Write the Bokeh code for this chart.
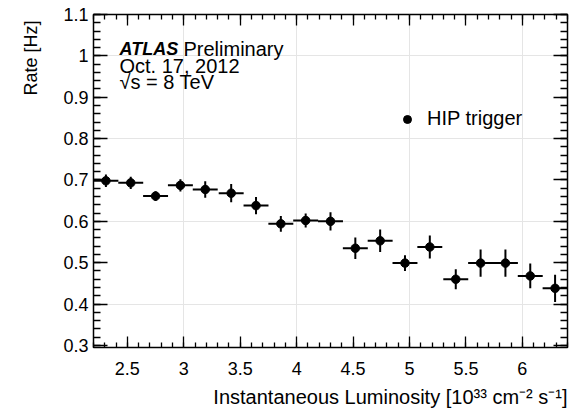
from bokeh.plotting import figure
from bokeh.models import (Range1d, LinearAxis, SingleIntervalTicker, CustomJSTickFormatter,
                          CustomLabelingPolicy, ColumnDataSource, Label, Legend, LegendItem, Title)
from bokeh.embed import file_html
from bokeh.resources import INLINE

# ---- data ----
lumi = [2.31, 2.53, 2.75, 2.97, 3.19, 3.42, 3.64, 3.86, 4.08, 4.30,
        4.52, 4.74, 4.96, 5.18, 5.41, 5.63, 5.85, 6.07, 6.29]
rate = [0.698, 0.693, 0.661, 0.687, 0.677, 0.668, 0.638, 0.594, 0.602, 0.600,
        0.535, 0.553, 0.499, 0.538, 0.460, 0.499, 0.499, 0.468, 0.438]
rate_err = [0.015, 0.015, 0.012, 0.015, 0.020, 0.022, 0.021, 0.019, 0.017, 0.022,
            0.026, 0.027, 0.019, 0.028, 0.024, 0.033, 0.033, 0.030, 0.033]
lumi_halfwidth = 0.1105
series_name = "HIP trigger"
x_title = "Instantaneous Luminosity [10³³ cm⁻² s⁻¹]"
y_title = "Rate [Hz]"

FONT = "Liberation Sans"

src = ColumnDataSource(dict(
    x=lumi, y=rate,
    xlo=[v - lumi_halfwidth for v in lumi], xhi=[v + lumi_halfwidth for v in lumi],
    ylo=[r - e for r, e in zip(rate, rate_err)], yhi=[r + e for r, e in zip(rate, rate_err)],
))

p = figure(width=571, height=420, x_range=Range1d(2.2, 6.4), y_range=Range1d(0.295, 1.1),
           output_backend="svg", toolbar_location=None,
           x_axis_location=None, y_axis_location=None,
           min_border_left=93, min_border_right=2, min_border_top=14, min_border_bottom=73)
p.outline_line_color = "black"
p.outline_line_width = 1.5
p.background_fill_color = "white"
p.border_fill_color = "white"

fmt = CustomJSTickFormatter(code="return String(Number(tick.toFixed(3)));")
no_labels = CustomLabelingPolicy(code="return new Set()")


def make_axis(ticker, major_in, minor_in, labels):
    ax = LinearAxis(ticker=ticker, formatter=fmt)
    ax.major_tick_in = major_in
    ax.major_tick_out = 0
    ax.minor_tick_in = minor_in
    ax.minor_tick_out = 0
    ax.axis_line_color = None
    ax.major_tick_line_width = 1.3
    ax.minor_tick_line_width = 1.3
    ax.major_tick_line_color = "black"
    ax.minor_tick_line_color = "black"
    if labels:
        ax.major_label_text_font = FONT
        ax.major_label_text_font_size = "18px"
        ax.major_label_text_color = "black"
    else:
        ax.major_label_policy = no_labels
        ax.major_label_text_font_size = "1px"
        ax.major_label_standoff = 0
    return ax


xt = lambda: SingleIntervalTicker(interval=0.5, num_minor_ticks=5)
yt = lambda: SingleIntervalTicker(interval=0.1, num_minor_ticks=5)

xb = make_axis(xt(), 11, 5, True)
xb.major_label_standoff = 14
p.add_layout(xb, "below")
xa = make_axis(xt(), 11, 5, False)
p.add_layout(xa, "above")
yl = make_axis(yt(), 14, 7, True)
yl.major_label_standoff = 5
p.add_layout(yl, "left")
yr = make_axis(yt(), 14, 7, False)
p.add_layout(yr, "right")

# axis titles at the axis ends (ROOT style)
p.add_layout(Title(text=x_title, align="right", vertical_align="bottom", offset=0,
                   standoff=12, text_font=FONT, text_font_size="20px",
                   text_font_style="normal", text_color="black"), "below")
p.add_layout(Title(text=y_title, align="right", vertical_align="middle", offset=6,
                   standoff=38, text_font=FONT, text_font_size="18px",
                   text_font_style="normal", text_color="black"), "left")

# error bars and markers
p.segment(x0="xlo", x1="xhi", y0="y", y1="y", source=src, line_color="black", line_width=2)
p.segment(x0="x", x1="x", y0="ylo", y1="yhi", source=src, line_color="black", line_width=2)
pts = p.scatter(x="x", y="y", source=src, size=8.5, marker="circle",
                fill_color="black", line_color="black")

legend = Legend(items=[LegendItem(label=series_name, renderers=[pts])],
                location=(304, 217), orientation="vertical",
                label_text_font=FONT, label_text_font_size="20px", label_text_color="black",
                glyph_width=20, glyph_height=20, label_standoff=10,
                padding=0, margin=0, spacing=0,
                border_line_color=None, background_fill_alpha=0)
p.add_layout(legend, "center")

lab_kw = dict(x_units="screen", y_units="screen", text_font=FONT, text_font_size="20px",
              text_color="black", text_baseline="alphabetic")
p.add_layout(Label(x=26, y=299, text="ATLAS", text_font_style="bold italic",
                   **{**lab_kw, "text_font_size": "18px"}))
p.add_layout(Label(x=90, y=299, text="Preliminary", **lab_kw))
p.add_layout(Label(x=26, y=282, text="Oct. 17, 2012", **lab_kw))
p.add_layout(Label(x=26, y=266, text="√s = 8 TeV", **lab_kw))

open("out.html", "w").write(file_html(p, INLINE))
